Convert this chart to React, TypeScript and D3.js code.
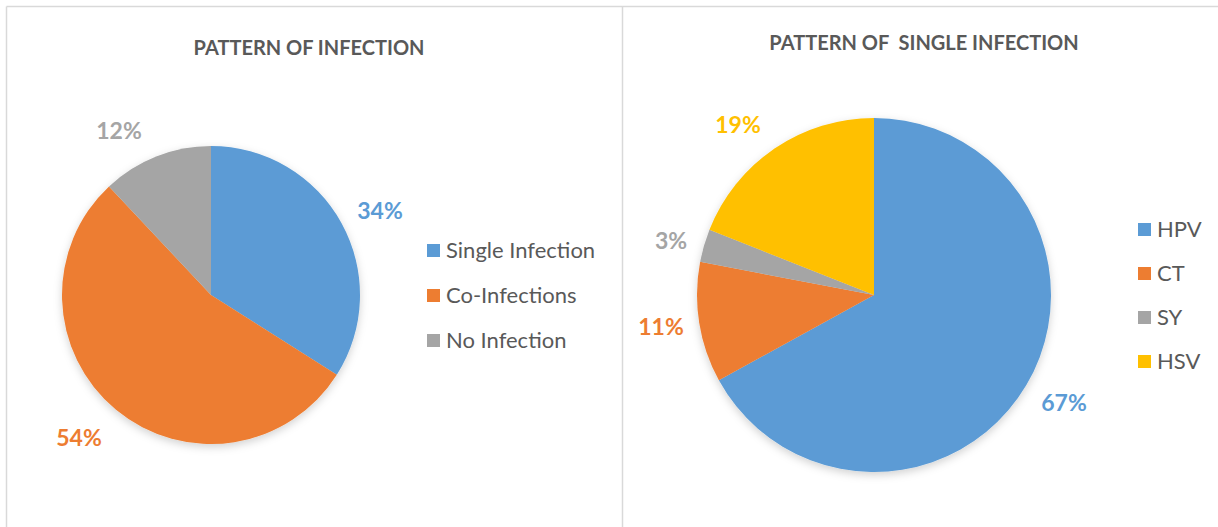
import React from 'react';
import * as d3 from 'd3';

const leftTitle = 'PATTERN OF INFECTION';
const leftCategories = ['Single Infection', 'Co-Infections', 'No Infection'];
const leftValues = [34, 54, 12];

const rightTitle = 'PATTERN OF  SINGLE INFECTION';
const rightCategories = ['HPV', 'CT', 'SY', 'HSV'];
const rightValues = [67, 11, 3, 19];

const colors = ['#5B9BD5', '#ED7D31', '#A5A5A5', '#FFC000'];
const FONT = 'Lato, "Open Sans", sans-serif';

type PieProps = {
  title: string;
  titleX: number;
  titleY: number;
  categories: string[];
  values: number[];
  cx: number;
  cy: number;
  r: number;
  labelPos: [number, number][];
  legendX: number;
  legendY: number;
  legendStep: number;
};

const PiePanel = (p: PieProps) => {
  const pie = d3.pie<number>().sort(null).value(d => d);
  const arc = d3.arc<d3.PieArcDatum<number>>().innerRadius(0).outerRadius(p.r);
  const arcs = pie(p.values);
  const total = d3.sum(p.values);
  return (
    <g>
      <text x={p.titleX} y={p.titleY} textAnchor="middle" fontFamily={FONT} fontWeight="bold"
        fontSize={20} fill="#595959" style={{ whiteSpace: 'pre' }}>{p.title}</text>
      <g transform={`translate(${p.cx},${p.cy})`} filter="url(#shadow)">
        {arcs.map((a, i) => (
          <path key={i} d={arc(a) || ''} fill={colors[i]} />
        ))}
      </g>
      {arcs.map((a, i) => (
        <text key={i} x={p.labelPos[i][0]} y={p.labelPos[i][1]} textAnchor="middle"
          fontFamily={FONT} fontWeight="bold" fontSize={23} fill={colors[i]}>
          {`${Math.round((a.value / total) * 100)}%`}
        </text>
      ))}
      {p.categories.map((c, i) => (
        <g key={c} transform={`translate(${p.legendX},${p.legendY + i * p.legendStep})`}>
          <rect x={0} y={-14} width={13} height={13} fill={colors[i]} />
          <text x={19} y={0} fontFamily={FONT} fontSize={22} fill="#595959">{c}</text>
        </g>
      ))}
    </g>
  );
};

export default function App() {
  return (
    <svg width={1218} height={527} style={{ position: 'absolute', left: 0, top: 0, background: '#fff' }}>
      <defs>
        <filter id="shadow" x="-20%" y="-20%" width="140%" height="140%">
          <feDropShadow dx={0} dy={3} stdDeviation={4} floodColor="#000" floodOpacity={0.18} />
        </filter>
      </defs>
      <rect x={0} y={0} width={1218} height={527} fill="#fff" />
      <line x1={6.5} y1={6.5} x2={1218} y2={6.5} stroke="#D9D9D9" strokeWidth={1.5} />
      <line x1={6.5} y1={6.5} x2={6.5} y2={527} stroke="#D9D9D9" strokeWidth={1.5} />
      <line x1={622.5} y1={6.5} x2={622.5} y2={527} stroke="#D9D9D9" strokeWidth={1.5} />
      <PiePanel title={leftTitle} titleX={309} titleY={55} categories={leftCategories} values={leftValues}
        cx={211} cy={295} r={149}
        labelPos={[[380, 219], [79, 446], [119, 139]]}
        legendX={427} legendY={258} legendStep={45} />
      <PiePanel title={rightTitle} titleX={924} titleY={50} categories={rightCategories} values={rightValues}
        cx={874} cy={295} r={177}
        labelPos={[[1064, 411], [661, 335], [671, 249], [738, 133]]}
        legendX={1138} legendY={237} legendStep={44} />
    </svg>
  );
}
